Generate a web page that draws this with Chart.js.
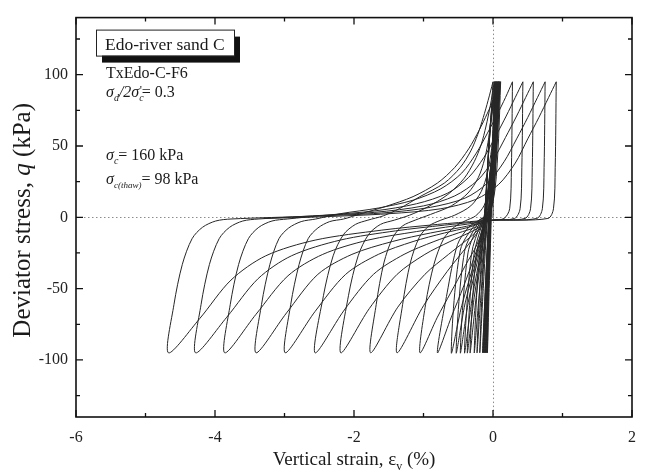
<!DOCTYPE html>
<html>
<head>
<meta charset="utf-8">
<script src="https://cdn.jsdelivr.net/npm/chart.js@4.4.0/dist/chart.umd.min.js"></script>
<style>html,body{margin:0;padding:0;background:#fff}</style>
</head>
<body>
<canvas id="grafico" width="647" height="475"></canvas>
<script>
// ejes
const xTicks = [-6, -4, -2, 0, 2];
const xMinor = [-5, -3, -1, 1];
const yTicks = [-100, -50, 0, 50, 100];
const yMinor = [-125, -75, -25, 25, 75, 125];

// ciclos iniciales (banda cerca de 0) [deformacion %, q kPa]
const earlyLoops = [
  [[0,0],[0.01,45],[0.02,95],[-0.01,50],[-0.04,0],[-0.065,-50],[-0.08,-95],[-0.055,-50],[-0.025,0],[0.005,50],[0.03,95]],
  [[0.03,95],[0.0,50],[-0.035,0],[-0.07,-50],[-0.09,-95],[-0.065,-50],[-0.03,0],[0.005,50],[0.03,95]],
  [[0.03,95],[-0.005,50],[-0.04,0],[-0.075,-50],[-0.10,-95],[-0.07,-50],[-0.035,0],[0.005,50],[0.04,95]],
  [[0.04,95],[0.0,50],[-0.04,0],[-0.08,-50],[-0.11,-95],[-0.08,-50],[-0.04,0],[0.01,50],[0.04,95]],
  [[0.04,95],[-0.005,50],[-0.05,0],[-0.09,-50],[-0.12,-95],[-0.085,-50],[-0.045,0],[0.01,50],[0.05,95]],
  [[0.05,95],[0.0,50],[-0.05,0],[-0.095,-50],[-0.13,-95],[-0.095,-50],[-0.05,0],[0.01,50],[0.05,95]],
  [[0.05,95],[-0.005,50],[-0.06,0],[-0.105,-50],[-0.14,-95],[-0.1,-50],[-0.055,0],[0.015,50],[0.06,95]],
  [[0.06,95],[0.0,50],[-0.06,0],[-0.11,-50],[-0.15,-95],[-0.11,-50],[-0.06,0],[0.015,50],[0.06,95]]
];

// ciclos con valle entre -0.19 y -0.60
const smallLoops = [
  [[0.06,95],[0.01,50],[-0.05,10],[-0.1,-10],[-0.15,-45],[-0.19,-95],[-0.14,-50],[-0.1,-15],[-0.06,10],[0.01,55],[0.07,95]],
  [[0.07,95],[0.02,50],[-0.05,10],[-0.12,-8],[-0.18,-40],[-0.23,-95],[-0.17,-52],[-0.12,-18],[-0.08,5],[0.0,50],[0.07,95]],
  [[0.07,95],[0.02,50],[-0.05,8],[-0.13,-6],[-0.21,-35],[-0.27,-95],[-0.2,-55],[-0.13,-20],[-0.09,5],[0.0,50],[0.08,95]],
  [[0.08,95],[0.03,50],[-0.04,8],[-0.14,-5],[-0.25,-30],[-0.33,-95],[-0.24,-55],[-0.15,-20],[-0.1,3],[0.0,50],[0.08,95]],
  [[0.08,95],[0.03,50],[-0.04,7],[-0.15,-4],[-0.28,-28],[-0.37,-95],[-0.27,-56],[-0.16,-22],[-0.11,2],[0.0,50],[0.09,95]],
  [[0.09,95],[0.04,50],[-0.04,6],[-0.17,-4],[-0.31,-26],[-0.41,-95],[-0.3,-57],[-0.17,-22],[-0.11,2],[0.0,50],[0.09,95]],
  [[0.09,95],[0.04,50],[-0.04,5],[-0.19,-4],[-0.36,-25],[-0.47,-95],[-0.35,-58],[-0.19,-23],[-0.12,1],[0.0,50],[0.10,95]],
  [[0.10,95],[0.05,50],[-0.03,5],[-0.2,-3],[-0.41,-24],[-0.53,-95],[-0.4,-60],[-0.21,-24],[-0.12,0],[0.01,50],[0.10,95]],
  [[0.10,95],[0.05,50],[-0.03,4],[-0.22,-3],[-0.47,-23],[-0.6,-95],[-0.45,-62],[-0.23,-25],[-0.12,0],[0.01,50],[0.10,95]]
];

// ciclos con valle entre -0.80 y -2.56
const midLoops = [
  [[0.10,95],[0.07,60],[0.03,30],[-0.03,10],[-0.1,1],[-0.2,-2],[-0.35,-7],[-0.51,-19],[-0.66,-53],[-0.8,-95],
   [-0.6,-70],[-0.42,-48],[-0.27,-28],[-0.15,-10],[-0.12,0],[-0.09,25],[-0.05,55],[0.0,80],[0.08,95]],
  [[0.08,95],[0.05,62],[0.01,38],[-0.05,20],[-0.13,8],[-0.25,1],[-0.4,-2.5],[-0.56,-7],[-0.71,-15],[-0.85,-33],[-0.97,-61],[-1.05,-95],
   [-0.8,-70],[-0.61,-53],[-0.4,-34],[-0.23,-19],[-0.14,-6],[-0.11,10],[-0.08,35],[-0.04,65],[0.06,95]],
  [[0.06,95],[0.02,68],[-0.02,48],[-0.08,31],[-0.17,18],[-0.32,8],[-0.55,1.5],[-0.75,-2],[-0.92,-6],[-1.06,-14],[-1.19,-32],[-1.3,-61],[-1.38,-95],
   [-1.0,-62],[-0.66,-38],[-0.4,-22],[-0.23,-11],[-0.13,-3],[-0.1,15],[-0.07,40],[-0.03,70],[0.04,95]],
  [[0.04,95],[-0.01,74],[-0.06,56],[-0.12,41],[-0.21,28],[-0.36,17],[-0.6,8],[-0.9,2],[-1.12,-2],[-1.3,-6],[-1.44,-14],[-1.57,-32],[-1.68,-61],[-1.76,-95],
   [-1.37,-63],[-0.98,-40],[-0.64,-26],[-0.38,-16],[-0.22,-9],[-0.14,-3],[-0.1,15],[-0.07,40],[-0.03,70],[0.02,95]],
  [[0.02,95],[-0.04,78],[-0.1,64],[-0.17,51],[-0.27,39],[-0.42,27],[-0.65,16],[-0.95,7],[-1.2,1.5],[-1.42,-2],[-1.62,-5],[-1.79,-12],[-1.94,-27],[-2.08,-55],[-2.19,-95],
   [-1.78,-64],[-1.38,-40],[-0.98,-26],[-0.62,-17],[-0.35,-11],[-0.2,-7],[-0.14,-3],[-0.1,15],[-0.07,40],[-0.03,70],[0.0,95]],
  [[0.0,95],[-0.07,82],[-0.14,70],[-0.22,58],[-0.32,46.5],[-0.47,35],[-0.7,24],[-1.05,14.5],[-1.35,6],[-1.58,1],[-1.8,-2],[-1.98,-5],[-2.15,-12],[-2.3,-27],[-2.44,-55],[-2.56,-95],
   [-2.14,-65],[-1.72,-40],[-1.28,-26],[-0.85,-17],[-0.5,-11],[-0.25,-7],[-0.15,-4],[-0.05,2],[0.03,20],[0.08,55],[0.11,95]]
];

// ciclos grandes, con pico de compresion positivo
const largeLoops = [
  [[0.11,95],[0.02,84],[-0.08,73],[-0.2,61],[-0.35,48],[-0.55,35],[-0.8,24],[-1.15,14.5],[-1.55,7.5],[-1.9,2.5],[-2.15,-1.2],[-2.35,-3],[-2.52,-7.5],[-2.66,-15],[-2.79,-33],[-2.91,-61],[-2.99,-95],
   [-2.56,-66],[-2.12,-40],[-1.65,-26],[-1.15,-17],[-0.7,-11],[-0.35,-7],[-0.16,-4],[0.0,-2],[0.16,-0.8],[0.24,6],[0.265,35],[0.28,95]],
  [[0.28,95],[0.18,84],[0.06,72],[-0.08,59],[-0.24,45],[-0.45,31],[-0.75,20],[-1.15,12],[-1.65,6.5],[-2.2,2.5],[-2.55,-1.2],[-2.76,-3],[-2.94,-7.5],[-3.08,-15],[-3.21,-33],[-3.33,-61],[-3.41,-95],
   [-2.97,-67],[-2.52,-40],[-2.03,-26],[-1.45,-17],[-0.9,-11],[-0.45,-7],[-0.17,-4],[0.0,-2],[0.31,-0.8],[0.39,6],[0.415,35],[0.43,95]],
  [[0.43,95],[0.32,84],[0.19,71],[0.04,57],[-0.13,42],[-0.35,28],[-0.65,17],[-1.1,9.5],[-1.7,4.5],[-2.4,1.5],[-2.96,-1.2],[-3.18,-2.6],[-3.37,-7],[-3.52,-15],[-3.66,-33],[-3.78,-61],[-3.86,-95],
   [-3.41,-68],[-2.95,-41],[-2.45,-26],[-1.8,-16],[-1.1,-10],[-0.55,-6],[-0.18,-3.5],[0.0,-2],[0.46,-0.8],[0.54,6],[0.565,35],[0.58,95]],
  [[0.58,95],[0.47,84],[0.34,71],[0.18,56],[0.0,40],[-0.22,26],[-0.55,15],[-1.0,8],[-1.7,3.5],[-2.6,1],[-3.38,-1.2],[-3.6,-2.6],[-3.79,-7],[-3.94,-15],[-4.08,-33],[-4.2,-61],[-4.28,-95],
   [-3.83,-70],[-3.38,-43],[-2.9,-27],[-2.2,-16],[-1.4,-9.5],[-0.7,-5.5],[-0.19,-3],[0.0,-2],[0.63,-0.8],[0.71,6],[0.735,35],[0.75,95]],
  [[0.75,95],[0.64,84],[0.5,70],[0.34,55],[0.16,39],[-0.08,24],[-0.4,13.5],[-0.9,7],[-1.6,3],[-2.6,0.8],[-3.77,-1.2],[-3.99,-2.6],[-4.18,-7],[-4.33,-15],[-4.47,-33],[-4.59,-61],[-4.67,-95],
   [-4.22,-71],[-3.77,-44],[-3.27,-27],[-2.56,-16],[-1.6,-9],[-0.8,-5],[-0.19,-2.5],[0.0,-2],[0.79,-0.8],[0.87,6],[0.895,35],[0.91,95]],
  [[0.91,95],[0.8,84],[0.66,70],[0.5,55],[0.32,38],[0.08,23],[-0.25,12.5],[-0.75,6],[-1.5,2.5],[-2.5,0.3],[-3.3,-0.8]]
];

const FUENTE = '"Liberation Serif", "Times New Roman", serif';

// escribe trozos de texto seguidos (normal, cursiva, subindice)
function escribir(ctx, x, y, partes) {
  let cx = x;
  for (const p of partes) {
    ctx.font = (p.i ? 'italic ' : '') + p.s + 'px ' + FUENTE;
    ctx.fillText(p.t, cx, y + (p.dy || 0));
    cx += ctx.measureText(p.t).width + (p.kern || 0);
  }
  return cx;
}
function ancho(ctx, partes) {
  let w = 0;
  for (const p of partes) {
    ctx.font = (p.i ? 'italic ' : '') + p.s + 'px ' + FUENTE;
    w += ctx.measureText(p.t).width + (p.kern || 0);
  }
  return w;
}

const marcos = {
  id: 'marcos',
  beforeDatasetsDraw(chart) {
    const ctx = chart.ctx, a = chart.chartArea;
    const sx = chart.scales.x, sy = chart.scales.y;
    ctx.save();
    ctx.strokeStyle = '#8c8c8c';
    ctx.lineWidth = 1;
    ctx.setLineDash([1.5, 2.5]);
    const x0 = Math.round(sx.getPixelForValue(0)) + 0.5;
    const y0 = Math.round(sy.getPixelForValue(0)) + 0.5;
    ctx.beginPath();
    ctx.moveTo(x0, a.top); ctx.lineTo(x0, a.bottom);
    ctx.moveTo(a.left, y0); ctx.lineTo(a.right, y0);
    ctx.stroke();
    ctx.restore();
  },
  afterDatasetsDraw(chart) {
    const ctx = chart.ctx, a = chart.chartArea;
    const sx = chart.scales.x, sy = chart.scales.y;
    ctx.save();
    ctx.strokeStyle = '#111';
    ctx.lineWidth = 1.6;
    ctx.strokeRect(a.left, a.top, a.right - a.left, a.bottom - a.top);

    // marcas hacia dentro en los cuatro lados
    ctx.lineWidth = 1.3;
    ctx.beginPath();
    const marcaX = (v, L) => {
      const px = sx.getPixelForValue(v);
      ctx.moveTo(px, a.bottom); ctx.lineTo(px, a.bottom - L);
      ctx.moveTo(px, a.top); ctx.lineTo(px, a.top + L);
    };
    const marcaY = (v, L) => {
      const py = sy.getPixelForValue(v);
      ctx.moveTo(a.left, py); ctx.lineTo(a.left + L, py);
      ctx.moveTo(a.right, py); ctx.lineTo(a.right - L, py);
    };
    xTicks.forEach(v => marcaX(v, 7));
    xMinor.forEach(v => marcaX(v, 4));
    yTicks.forEach(v => marcaY(v, 7));
    yMinor.forEach(v => marcaY(v, 4));
    ctx.stroke();

    // cuadro del titulo con sombra
    const bx = a.left + 20, by = a.top + 12, bw = 138, bh = 26;
    ctx.fillStyle = '#111';
    ctx.fillRect(bx + 6, by + 7, bw, bh);
    ctx.fillStyle = '#fff';
    ctx.fillRect(bx, by, bw, bh);
    ctx.lineWidth = 1;
    ctx.strokeStyle = '#222';
    ctx.strokeRect(bx + 0.5, by + 0.5, bw, bh);
    ctx.fillStyle = '#1a1a1a';
    ctx.textBaseline = 'alphabetic';
    ctx.textAlign = 'left';
    escribir(ctx, bx + 9, by + 20, [{t: 'Edo-river sand C', s: 17.5}]);

    const tx = a.left + 30;
    escribir(ctx, tx, 78, [{t: 'TxEdo-C-F6', s: 16}]);
    escribir(ctx, tx, 97, [
      {t: 'σ', s: 16, i: true}, {t: 'd', s: 10, i: true, dy: 4},
      {t: '/2σ', s: 16, i: true}, {t: 'c', s: 10, i: true, dy: 4, kern: -4},
      {t: '\'', s: 12, dy: -3}, {t: '= 0.3', s: 16}
    ]);
    escribir(ctx, tx, 160, [
      {t: 'σ', s: 16, i: true}, {t: 'c', s: 10, i: true, dy: 4}, {t: '= 160 kPa', s: 16}
    ]);
    escribir(ctx, tx, 184, [
      {t: 'σ', s: 16, i: true}, {t: 'c(thaw)', s: 9, i: true, dy: 4}, {t: '= 98 kPa', s: 16}
    ]);

    // titulos de los ejes
    const tituloX = [
      {t: 'Vertical strain, ', s: 19}, {t: 'ε', s: 19}, {t: 'v', s: 12, dy: 5}, {t: ' (%)', s: 19}
    ];
    const cx = (a.left + a.right) / 2;
    escribir(ctx, cx - ancho(ctx, tituloX) / 2, 465, tituloX);

    const tituloY = [
      {t: 'Deviator stress, ', s: 25}, {t: 'q', s: 25, i: true}, {t: ' (kPa)', s: 25}
    ];
    ctx.translate(30, (a.top + a.bottom) / 2 + 3);
    ctx.rotate(-Math.PI / 2);
    escribir(ctx, -ancho(ctx, tituloY) / 2, 0, tituloY);
    ctx.restore();
  }
};

const todos = [...earlyLoops, ...smallLoops, ...midLoops, ...largeLoops];
const datasets = todos.map(path => ({
  data: path.map(p => ({x: p[0], y: p[1]})),
  showLine: true,
  borderColor: '#262626',
  borderWidth: 1,
  pointRadius: 0,
  tension: 0.3,
  fill: false
}));

const graphTarget = document.getElementById('grafico');
new Chart(graphTarget, {
  type: 'scatter',
  data: { datasets: datasets },
  options: {
    responsive: false,
    animation: false,
    events: [],
    layout: { padding: { top: 5, right: 11, left: 0, bottom: 0 } },
    plugins: { legend: { display: false }, tooltip: { enabled: false } },
    scales: {
      x: {
        type: 'linear', min: -6, max: 2,
        afterBuildTicks: s => { s.ticks = xTicks.map(v => ({ value: v })); },
        afterFit: s => { s.height = 58; },
        grid: { display: false, drawTicks: false },
        border: { display: false },
        ticks: { padding: 11, color: '#222', font: { family: FUENTE, size: 16 } }
      },
      y: {
        type: 'linear', min: -140, max: 140,
        afterBuildTicks: s => { s.ticks = yTicks.map(v => ({ value: v })); },
        afterFit: s => { s.width = 76; },
        grid: { display: false, drawTicks: false },
        border: { display: false },
        ticks: { padding: 8, color: '#222', font: { family: FUENTE, size: 16 } }
      }
    }
  },
  plugins: [marcos]
});
</script>
</body>
</html>
